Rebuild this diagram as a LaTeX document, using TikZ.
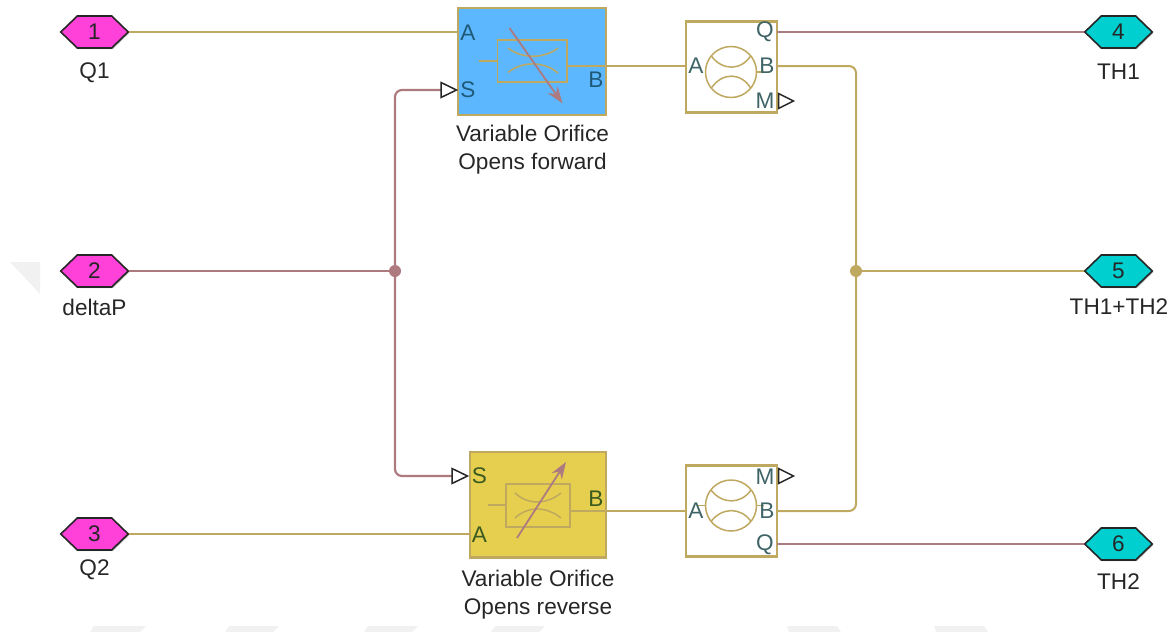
\documentclass[tikz,border=0pt]{standalone}
\usepackage{fontspec}
\setmainfont{Liberation Sans}
\usetikzlibrary{shapes.symbols,shadows,arrows.meta,calc}
\definecolor{phys}{HTML}{BFA85F}
\definecolor{sig}{HTML}{AD7A80}
\definecolor{blueb}{HTML}{5DB7FF}
\definecolor{yelb}{HTML}{E6CF4E}
\definecolor{magp}{HTML}{FF40D9}
\definecolor{cyanp}{HTML}{00CFCF}
\definecolor{portb}{HTML}{1F5A78}
\definecolor{porty}{HTML}{3A5A20}
\definecolor{portw}{HTML}{3F6468}
\definecolor{wm}{HTML}{F1F1F1}
\tikzset{
 x=1pt,y=-1pt,
 every node/.style={font=\fontsize{22.6}{28}\selectfont,text=black!85},
 hexport/.style={shape=signal,signal to=east and west,signal pointer angle=88,draw=black!85,line width=1.6pt,minimum width=67.5pt,minimum height=32pt,inner sep=0pt,drop shadow={shadow xshift=1.2pt,shadow yshift=-1.2pt,fill=black!45,opacity=.5}},
 inport/.style={hexport,fill=magp},
 outport/.style={hexport,fill=cyanp},
 captext/.style={align=center,inner sep=0pt},
 blk/.style={draw=phys,line width=2.2pt,inner sep=0pt,outer sep=0pt,anchor=north west},
 physline/.style={draw=phys,line width=1.5pt},
 physwide/.style={draw=phys,line width=2pt},
 sigline/.style={draw=sig,line width=1.5pt},
 sigwide/.style={draw=sig,line width=2.2pt},
 rline/.style={rounded corners=7pt},
 sigtri/.style={draw=black!85,line width=1.5pt,fill=white,line join=miter},
 prt/.style={inner sep=0pt},
 junc/.style={circle,inner sep=0pt,minimum size=12pt},
 arrowline/.style={draw=sig,line width=1.8pt,-{Stealth[length=17pt,width=12pt]}},
}
\begin{document}
\begin{tikzpicture}
\useasboundingbox (0,0) rectangle (1176,632);
% faint background marks
\fill[wm] (10,262) -- (40,262) -- (40,294) -- cycle;
\fill[wm] (90,632) -- (94,626) -- (146,626) -- (140,632) -- cycle;
\fill[wm] (225,632) -- (229,626) -- (279,626) -- (273,632) -- cycle;
\fill[wm] (364,632) -- (368,626) -- (418,626) -- (412,632) -- cycle;
\fill[wm] (491,632) -- (495,626) -- (545,626) -- (539,632) -- cycle;
\fill[wm] (789,632) -- (787,626) -- (837,626) -- (841,632) -- cycle;
\fill[wm] (936,632) -- (934,626) -- (984,626) -- (988,632) -- cycle;
% ports
\node[inport] (p1) at (94.5,32) {1};
\node[inport] (p2) at (94.5,271) {2};
\node[inport] (p3) at (94.5,534) {3};
\node[outport] (p4) at (1118.5,32) {4};
\node[outport] (p5) at (1118.5,271) {5};
\node[outport] (p6) at (1118.5,544) {6};
\node[captext] (l1) at (94.5,73) {Q1};
\node[captext] (l2) at (94.5,307) {deltaP};
\node[captext] (l3) at (94.5,570) {Q2};
\node[captext] (l4) at (1118.5,72) {TH1};
\node[captext] (l5) at (1119,307) {TH1+TH2};
\node[captext] (l6) at (1118.5,582) {TH2};
% blocks
\node[blk,fill=blueb,minimum width=147.5pt,minimum height=107.5pt] (fw) at (458.2,7.6) {};
\node[blk,fill=yelb,minimum width=136.5pt,minimum height=105.5pt] (rv) at (469.6,452) {};
\node[blk,fill=white,minimum width=91pt,minimum height=91pt] (s1) at (686,21.5) {};
\node[blk,fill=white,minimum width=91pt,minimum height=91pt] (s2) at (686,465.5) {};
\node[captext] (cfw) at (532.5,150) {Variable Orifice\\Opens forward};
\node[captext] (crv) at (538,594.5) {Variable Orifice\\Opens reverse};
% coordinates for connectors
\coordinate (fwA) at (458,32);
\coordinate (fwB) at (606,66);
\coordinate (s1A) at (686,66);
\coordinate (s1Br) at (777,66);
\coordinate (s1Q) at (777,32);
\coordinate (fwS) at (441,90);
\coordinate (rvS) at (452,476);
\coordinate (rvA) at (469.5,534);
\coordinate (rvB) at (606,511);
\coordinate (s2A) at (686,511);
\coordinate (s2Br) at (777,511);
\coordinate (s2Q) at (777,544);
\node[junc,fill=sig] (js) at (395,271) {};
\node[junc,fill=phys] (jp) at (856,271) {};
% lines
\draw[physline] (p1.east) -- (fwA);
\draw[physline] (p3.east) -- (rvA);
\draw[physline] (fwB) -- (s1A);
\draw[physline] (rvB) -- (s2A);
\draw[physwide,rline] (s1Br) -- (856,66) -- (jp.center);
\draw[physwide,rline] (s2Br) -- (856,511) -- (jp.center);
\draw[physwide] (jp.center) -- (p5.west);
\draw[sigwide] (p2.east) -- (js.center);
\draw[sigwide,rline] (js.center) -- (395,90) -- (fwS);
\draw[sigwide,rline] (js.center) -- (395,476) -- (rvS);
\draw[sigline] (s1Q) -- (p4.west);
\draw[sigline] (s2Q) -- (p6.west);
% signal triangles
\draw[sigtri] (441,82.5) -- (456.5,90) -- (441,97.5) -- cycle;
\draw[sigtri] (452,468.5) -- (467.5,476) -- (452,483.5) -- cycle;
\draw[sigtri] (778.5,93.5) -- (793.5,101) -- (778.5,108.5) -- cycle;
\draw[sigtri] (778.5,468.5) -- (793.5,476) -- (778.5,483.5) -- cycle;
% forward orifice icon
\draw[physline] (478.5,61) -- (497.5,61);
\draw[physline] (497.5,40) rectangle (567,82);
\draw[physline] (567,66) -- (606,66);
\draw[physline] (508,48) .. controls (522,59) and (544,59) .. (558,48);
\draw[physline] (508,72.5) .. controls (522,61) and (544,61) .. (558,73);
\draw[arrowline] (509.5,28) -- (562.5,103.5);
% reverse orifice icon
\draw[physline] (488,505) -- (506,505);
\draw[physline] (506,484) rectangle (570,527);
\draw[physline] (570,511) -- (606,511);
\draw[physline] (515,493) .. controls (528,505) and (546,505) .. (561,493);
\draw[physline] (515,518) .. controls (528,506) and (546,506) .. (561,518);
\draw[arrowline] (517,538) -- (566,462);
% sensors
\draw[physline] (731,72) circle[radius=25.5];
\draw[physline] (711,55.5) .. controls (722,71) and (741,71) .. (751,55.5);
\draw[physline] (711,88.5) .. controls (722,72) and (741,72) .. (751,88.5);
\draw[physline] (756.5,72) -- (764,72);
\draw[physline] (731,505.5) circle[radius=25.5];
\draw[physline] (711,490) .. controls (722,504.5) and (741,504.5) .. (751,490);
\draw[physline] (711,521.5) .. controls (722,507) and (741,507) .. (751,521.5);
\draw[physline] (698,505.5) -- (706,505.5);
\draw[physline] (756.5,505.5) -- (764,505.5);
% port labels
\node[prt,text=portb] (tA) at (468,33) {A};
\node[prt,text=portb] (tS) at (468,90) {S};
\node[prt,text=portb] (tB) at (596,80) {B};
\node[prt,text=portw] (tQ) at (765,32) {Q};
\node[prt,text=portw] (tA1) at (696,66) {A};
\node[prt,text=portw] (tB1) at (767,66) {B};
\node[prt,text=portw] (tM) at (765,101) {M};
\node[prt,text=porty] (tS2) at (479.5,476) {S};
\node[prt,text=porty] (tA2) at (479.5,535) {A};
\node[prt,text=porty] (tB2) at (596,499) {B};
\node[prt,text=portw] (tM2) at (765,477) {M};
\node[prt,text=portw] (tA3) at (696,511) {A};
\node[prt,text=portw] (tB3) at (767,511) {B};
\node[prt,text=portw] (tQ2) at (765,545) {Q};
\end{tikzpicture}
\end{document}
